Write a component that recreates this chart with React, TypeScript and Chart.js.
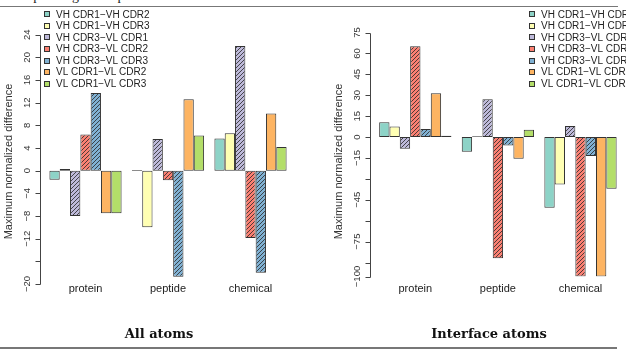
import React, { useEffect, useRef } from 'react';
import { Chart, registerables } from 'chart.js';
Chart.register(...registerables);

const categories = ['protein', 'peptide', 'chemical'];
const seriesLabels = [
  'VH CDR1\u2212VH CDR2',
  'VH CDR1\u2212VH CDR3',
  'VH CDR3\u2212VL CDR1',
  'VH CDR3\u2212VL CDR2',
  'VH CDR3\u2212VL CDR3',
  'VL CDR1\u2212VL CDR2',
  'VL CDR1\u2212VL CDR3',
];
const seriesColors = ['#8DD3C7', '#FFFFB3', '#BEBADA', '#FB8072', '#80B1D3', '#FDB462', '#B3DE69'];
const seriesHatched = [false, false, true, true, true, false, false];

// All atoms (protein, peptide, chemical)
const allVH1VH2 = [-1.6, 0.1, 5.7];
const allVH1VH3 = [0.3, -10.0, 6.6];
const allVH3VL1 = [-8.0, 5.6, 22.0];
const allVH3VL2 = [6.4, -1.7, -11.9];
const allVH3VL3 = [13.7, -18.7, -18.0];
const allVL1VL2 = [-7.5, 12.6, 10.1];
const allVL1VL3 = [-7.5, 6.2, 4.2];

// Interface atoms (protein, peptide, chemical)
const intVH1VH2 = [10.7, -10.5, -50.7];
const intVH1VH3 = [7.6, 0.5, -34.0];
const intVH3VL1 = [-8.3, 27.1, 8.0];
const intVH3VL2 = [65.2, -87.0, -100];
const intVH3VL3 = [5.7, -6.0, -13.6];
const intVL1VL2 = [31.4, -15.5, -100];
const intVL1VL3 = [1.0, 5.2, -37.0];

const allTicks = [-20, -16, -12, -8, -4, 0, 4, 8, 12, 16, 20, 24];
const allTickLabels = ['\u221220', '', '\u221212', '\u22128', '\u22124', '0', '4', '8', '12', '16', '20', '24'];
const intTicks = [-100, -90, -75, -60, -45, -30, -15, 0, 15, 30, 45, 60, 75];
const intTickLabels = ['\u2212100', '', '\u221275', '', '\u221245', '', '\u221215', '0', '15', '30', '45', '60', '75'];

const yTitle = 'Maximum normalized difference';

function makeHatch(color: string) {
  const s = 4;
  const c = document.createElement('canvas');
  c.width = s;
  c.height = s;
  const g = c.getContext('2d')!;
  g.fillStyle = color;
  g.fillRect(0, 0, s, s);
  g.strokeStyle = 'rgba(40,40,40,0.9)';
  g.lineWidth = 0.9;
  g.beginPath();
  g.moveTo(-1, s + 1);
  g.lineTo(s + 1, -1);
  g.moveTo(-1, 1);
  g.lineTo(1, -1);
  g.moveTo(s - 1, s + 1);
  g.lineTo(s + 1, s - 1);
  g.stroke();
  return g.createPattern(c, 'repeat');
}

const rAxisPlugin = {
  id: 'rAxis',
  afterDraw(chart: any, _args: any, opts: any) {
    const { ctx, chartArea, scales } = chart;
    const y = scales.y;
    const ax = Math.round(chartArea.left - 4) + 0.5;
    const ticks: number[] = opts.ticks;
    const labels: string[] = opts.labels;
    ctx.save();
    ctx.strokeStyle = '#444';
    ctx.lineWidth = 1;
    ctx.beginPath();
    const top = Math.round(y.getPixelForValue(ticks[ticks.length - 1])) + 0.5;
    const bot = Math.round(y.getPixelForValue(ticks[0])) + 0.5;
    ctx.moveTo(ax, top);
    ctx.lineTo(ax, bot);
    ticks.forEach((v) => {
      const py = Math.round(y.getPixelForValue(v)) + 0.5;
      ctx.moveTo(ax, py);
      ctx.lineTo(ax - 5, py);
    });
    ctx.stroke();
    ctx.fillStyle = '#333';
    ctx.font = '9.5px "Liberation Sans", Arial, sans-serif';
    ctx.textAlign = 'center';
    ctx.textBaseline = 'middle';
    ticks.forEach((v, i) => {
      if (!labels[i]) return;
      const py = y.getPixelForValue(v);
      ctx.save();
      ctx.translate(ax - 13, py);
      ctx.rotate(-Math.PI / 2);
      ctx.fillText(labels[i], 0, 0);
      ctx.restore();
    });
    ctx.font = '11px "Liberation Sans", Arial, sans-serif';
    ctx.save();
    ctx.translate(ax - 32, opts.titleY);
    ctx.rotate(-Math.PI / 2);
    ctx.fillText(opts.title, 0, 0);
    ctx.restore();
    // legend
    ctx.font = '10px "Liberation Sans", Arial, sans-serif';
    ctx.textAlign = 'left';
    chart.data.datasets.forEach((ds: any, i: number) => {
      const cy = opts.legendY + i * opts.legendStep;
      const bx = opts.legendX;
      ctx.fillStyle = ds.legendColor;
      ctx.fillRect(bx, Math.round(cy - 3), 6, 6);
      ctx.strokeStyle = '#333';
      ctx.strokeRect(bx + 0.5, Math.round(cy - 3) + 0.5, 5, 5);
      ctx.fillStyle = '#222';
      ctx.fillText(ds.label, bx + 12, cy + 0.5);
    });
    ctx.restore();
  },
};

type PanelProps = {
  series: number[][];
  ticks: number[];
  labels: string[];
  min: number;
  max: number;
  pad: { left: number; right: number; top: number };
  xHeight: number;
  xPad: number;
  legendX: number;
  left: number;
};

function Panel(p: PanelProps) {
  const ref = useRef<HTMLCanvasElement>(null);
  useEffect(() => {
    const canvas = ref.current!;
    const chart = new Chart(canvas, {
      type: 'bar',
      data: {
        labels: categories,
        datasets: p.series.map((vals, i) => ({
          label: seriesLabels[i],
          data: vals,
          backgroundColor: seriesHatched[i] ? (makeHatch(seriesColors[i]) as any) : seriesColors[i],
          legendColor: seriesColors[i],
          borderColor: '#333',
          borderWidth: 1,
          borderSkipped: false,
          categoryPercentage: 7 / 8,
          barPercentage: 1,
        })) as any,
      },
      options: {
        animation: false,
        responsive: false,
        maintainAspectRatio: false,
        events: [],
        layout: { padding: { left: p.pad.left, right: p.pad.right, top: p.pad.top, bottom: 0 } },
        plugins: {
          legend: { display: false },
          tooltip: { enabled: false },
          rAxis: {
            ticks: p.ticks,
            labels: p.labels,
            title: yTitle,
            titleY: 161.5,
            legendX: p.legendX,
            legendY: 14.3,
            legendStep: 11.55,
          },
        } as any,
        scales: {
          x: {
            type: 'category',
            grid: { display: false, drawTicks: false },
            border: { display: false },
            ticks: {
              color: '#222',
              padding: p.xPad,
              font: { family: '"Liberation Sans", Arial, sans-serif', size: 11 },
              maxRotation: 0,
            },
            afterFit: (s: any) => {
              s.height = p.xHeight;
            },
          },
          y: {
            type: 'linear',
            display: false,
            min: p.min,
            max: p.max,
          },
        },
      },
      plugins: [rAxisPlugin],
    });
    return () => chart.destroy();
  }, []);
  return (
    <canvas
      ref={ref}
      width={313}
      height={350}
      style={{ position: 'absolute', left: p.left, top: 0, width: 313, height: 350 }}
    />
  );
}

export default function App() {
  const titleFont = 'bold 13px "DejaVu Serif", "Liberation Serif", serif';
  return (
    <div
      style={{
        position: 'absolute',
        left: 0,
        top: 0,
        width: 626,
        height: 350,
        overflow: 'hidden',
        background: '#fff',
      }}
    >
      <div
        style={{
          position: 'absolute',
          left: -1,
          top: -12,
          font: '14px "Liberation Serif", serif',
          color: '#222',
          whiteSpace: 'nowrap',
        }}
      >
        corresponding to the pairs of CDRs in contact.
      </div>
      <div style={{ position: 'absolute', left: 0, top: 6, width: 618, height: 1, background: '#777' }} />
      <Panel
        series={[allVH1VH2, allVH1VH3, allVH3VL1, allVH3VL2, allVH3VL3, allVL1VL2, allVL1VL3]}
        ticks={allTicks}
        labels={allTickLabels}
        min={-20}
        max={24}
        pad={{ left: 44.25, right: 21.25, top: 34.7 }}
        xHeight={66}
        xPad={-1.3}
        legendX={44}
        left={0}
      />
      <Panel
        series={[intVH1VH2, intVH1VH3, intVH3VL1, intVH3VL2, intVH3VL3, intVL1VL2, intVL1VL3]}
        ticks={intTicks}
        labels={intTickLabels}
        min={-100}
        max={75}
        pad={{ left: 61, right: 4.2, top: 32.5 }}
        xHeight={73.5}
        xPad={5.4}
        legendX={216}
        left={313}
      />
      <div
        style={{
          position: 'absolute',
          left: 59,
          width: 200,
          top: 326,
          textAlign: 'center',
          font: titleFont,
          color: '#111',
        }}
      >
        All atoms
      </div>
      <div
        style={{
          position: 'absolute',
          left: 389,
          width: 200,
          top: 326,
          textAlign: 'center',
          font: titleFont,
          color: '#111',
        }}
      >
        Interface atoms
      </div>
      <div style={{ position: 'absolute', left: 0, top: 347, width: 617, height: 1.5, background: '#777' }} />
    </div>
  );
}
